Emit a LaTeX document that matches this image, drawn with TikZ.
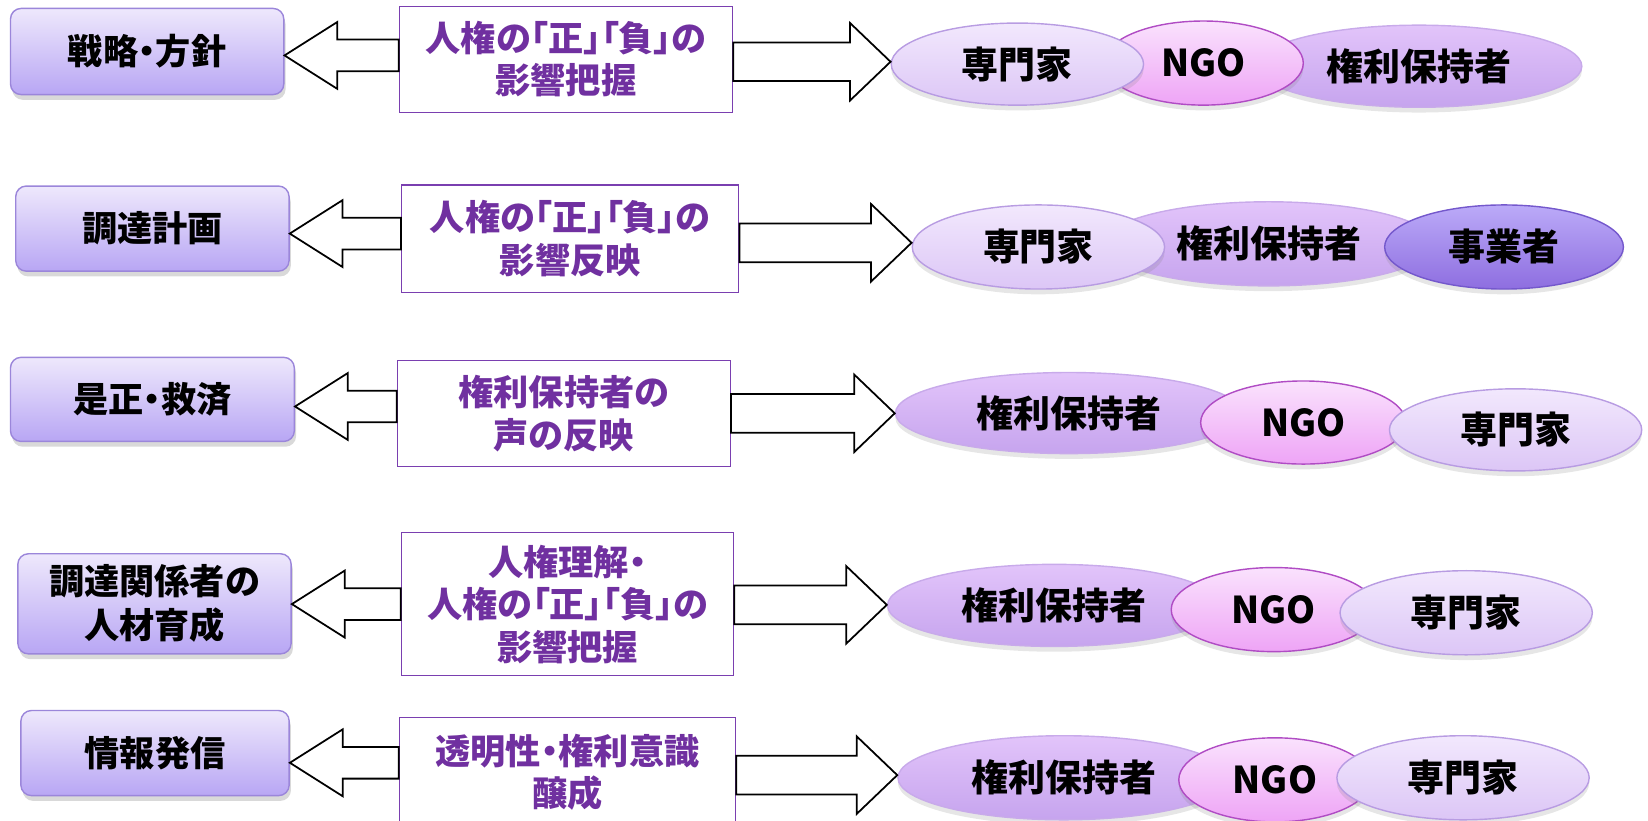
\documentclass[tikz,border=0pt]{standalone}
\usepackage{fontspec}
\setmainfont{Noto Sans CJK JP}[RawFeature=+palt]
\usetikzlibrary{calc,shapes.geometric,shadows}

\definecolor{boxtop}{HTML}{EEE8FC}
\definecolor{boxbot}{HTML}{B8A6F4}
\definecolor{boxline}{HTML}{9B86DA}
\definecolor{midline}{HTML}{7A3FB0}
\definecolor{midtext}{HTML}{7030A0}
\definecolor{proftop}{HTML}{F2E8FD}
\definecolor{profbot}{HTML}{DCC6F6}
\definecolor{profline}{HTML}{B89CE2}
\definecolor{ngotop}{HTML}{FAE2FD}
\definecolor{ngobot}{HTML}{EEA4F6}
\definecolor{ngoline}{HTML}{B04CC4}
\definecolor{holdtop}{HTML}{E2C4FA}
\definecolor{holdbot}{HTML}{C6A4EE}
\definecolor{holdline}{HTML}{C8AAEA}
\definecolor{biztop}{HTML}{BBAAF8}
\definecolor{bizbot}{HTML}{8E6EE0}
\definecolor{bizline}{HTML}{7458CC}

\begin{document}
\begin{tikzpicture}[x=0.021cm,y=-0.021cm,
    larrow/.style={draw=black,line width=1pt,fill=white,
      to path={let \p1=(\tikztostart),\p2=(\tikztotarget),
        \p3=($(\tikztostart)!.5!(\tikztotarget)$) in
        (\x1,\y3+9pt) -- (\x2+30pt,\y3+9pt) -- (\x2+30pt,\y3+19pt) -- (\x2,\y3)
        -- (\x2+30pt,\y3-19pt) -- (\x2+30pt,\y3-9pt) -- (\x1,\y3-9pt) -- cycle}},
    rarrow/.style={draw=black,line width=1pt,fill=white,
      to path={let \p1=(\tikztostart),\p2=(\tikztotarget),
        \p3=($(\tikztostart)!.5!(\tikztotarget)$) in
        (\x1,\y3+11pt) -- (\x2-23pt,\y3+11pt) -- (\x2-23pt,\y3+22pt) -- (\x2,\y3)
        -- (\x2-23pt,\y3-22pt) -- (\x2-23pt,\y3-11pt) -- (\x1,\y3-11pt) -- cycle}},
    ell/.style={ellipse,inner sep=0pt,line width=0.8pt,
      font=\bfseries\fontsize{21}{24}\selectfont,
      drop shadow={shadow xshift=0pt,shadow yshift=-3pt,opacity=.2}},
    prof/.style={ell,draw=profline,top color=proftop,bottom color=profbot},
    ngo/.style={ell,draw=ngoline,top color=ngotop,bottom color=ngobot},
    holder/.style={ell,draw=holdline,top color=holdtop,bottom color=holdbot},
    biz/.style={ell,draw=bizline,top color=biztop,bottom color=bizbot}]

  \useasboundingbox (0,0) rectangle (1568,781);

  % left: purposes
  \begin{scope}[every node/.style={rounded corners=6pt,draw=boxline,line width=0.8pt,
      top color=boxtop,bottom color=boxbot,inner sep=0pt,align=center,
      drop shadow={shadow xshift=1pt,shadow yshift=-3pt,opacity=.3},
      font=\bfseries\fontsize{20}{25}\selectfont}]
    \node[minimum width=5.46cm,minimum height=1.72cm] (l1) at (140,49)    {戦略・方針};
    \node[minimum width=5.46cm,minimum height=1.70cm] (l2) at (145,217.5) {調達計画};
    \node[minimum width=5.67cm,minimum height=1.68cm] (l3) at (145,380)   {是正・救済};
    \node[minimum width=5.46cm,minimum height=2.00cm] (l4) at (147,574.5) {調達関係者の\\人材育成};
    \node[minimum width=5.36cm,minimum height=1.70cm] (l5) at (147.5,716.5) {情報発信};
  \end{scope}

  % middle: what is done
  \begin{scope}[every node/.style={draw=midline,line width=0.6pt,fill=white,
      inner sep=0pt,align=center,text=midtext,
      font=\bfseries\fontsize{20}{24}\selectfont}]
    \node[minimum width=6.66cm,minimum height=2.12cm] (m1) at (538.5,56.5) {人権の「正」「負」の\\影響把握};
    \node[minimum width=6.74cm,minimum height=2.14cm] (m2) at (542.5,227)  {人権の「正」「負」の\\影響反映};
    \node[minimum width=6.66cm,minimum height=2.12cm] (m3) at (536.5,393.5) {権利保持者の\\声の反映};
    \node[minimum width=6.64cm,minimum height=2.86cm] (m4) at (540,575)    {人権理解・\\人権の「正」「負」の\\影響把握};
    \node[minimum width=6.72cm,minimum height=2.18cm] (m5) at (540,735)    {透明性・権利意識\\醸成};
  \end{scope}

  % right: who takes part
  \node[holder,minimum width=6.51cm,minimum height=1.64cm] (r1c) at (1350,63)  {権利保持者};
  \node[ngo,   minimum width=3.99cm,minimum height=1.68cm] (r1b) at (1145,60)  {NGO};
  \node[prof,  minimum width=5.04cm,minimum height=1.64cm] (r1a) at (968,61)   {専門家};

  \node[holder,minimum width=6.62cm,minimum height=1.68cm] (r2b) at (1207,232) {権利保持者};
  \node[prof,  minimum width=5.04cm,minimum height=1.68cm] (r2a) at (988,235)  {専門家};
  \node[biz,   minimum width=4.77cm,minimum height=1.68cm] (r2c) at (1431,235) {事業者};

  \node[holder,minimum width=6.93cm,minimum height=1.62cm] (r3a) at (1017,393) {権利保持者};
  \node[ngo,   minimum width=4.10cm,minimum height=1.66cm] (r3b) at (1240,402) {NGO};
  \node[prof,  minimum width=5.04cm,minimum height=1.64cm] (r3c) at (1442,409) {専門家};

  \node[holder,minimum width=6.66cm,minimum height=1.64cm] (r4a) at (1003,576) {権利保持者};
  \node[ngo,   minimum width=4.10cm,minimum height=1.68cm] (r4b) at (1212,580) {NGO};
  \node[prof,  minimum width=5.04cm,minimum height=1.68cm] (r4c) at (1395,583) {専門家};

  \node[holder,minimum width=6.62cm,minimum height=1.68cm] (r5a) at (1012,740) {権利保持者};
  \node[ngo,   minimum width=3.84cm,minimum height=1.68cm] (r5b) at (1213,742) {NGO};
  \node[prof,  minimum width=5.04cm,minimum height=1.68cm] (r5c) at (1392,740) {専門家};

  % block arrows
  \draw[larrow] (m1.west) to (l1.east);
  \draw[larrow] (m2.west) to (l2.east);
  \draw[larrow] (m3.west) to (l3.east);
  \draw[larrow] (m4.west) to (l4.east);
  \draw[larrow] (m5.west) to (l5.east);

  \draw[rarrow] (m1.east) to (r1a.west);
  \draw[rarrow] (m2.east) to (r2a.west);
  \draw[rarrow] (m3.east) to (r3a.west);
  \draw[rarrow] (m4.east) to (r4a.west);
  \draw[rarrow] (m5.east) to (r5a.west);

\end{tikzpicture}
\end{document}
